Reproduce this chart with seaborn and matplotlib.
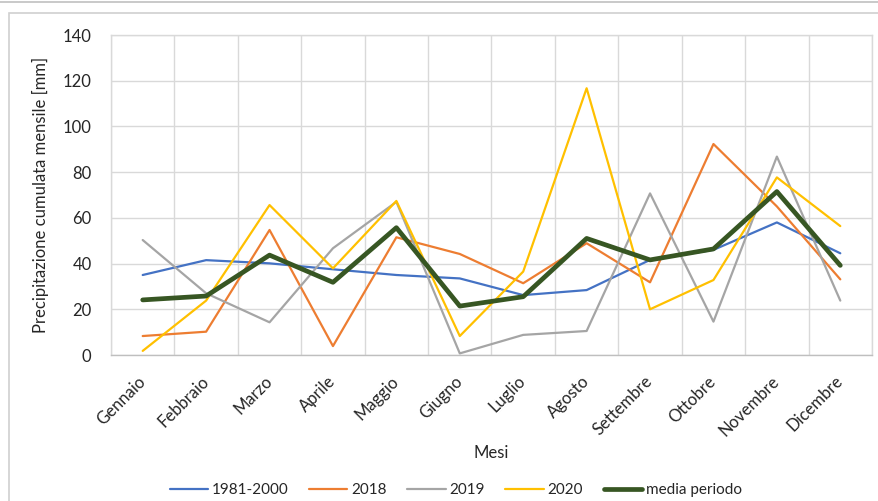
import numpy as np
import pandas as pd
import matplotlib
matplotlib.use("Agg")
import matplotlib.pyplot as plt
from matplotlib.patches import Rectangle
from matplotlib.ticker import FixedLocator
import seaborn as sns

months = ["Gennaio", "Febbraio", "Marzo", "Aprile", "Maggio", "Giugno",
          "Luglio", "Agosto", "Settembre", "Ottobre", "Novembre", "Dicembre"]

ref_1981_2000 = [35.0, 41.5, 40.1, 37.5, 35.0, 33.5, 26.2, 28.4, 41.6, 46.0, 58.0, 44.5]
y2018 = [8.3, 10.2, 54.7, 3.9, 51.5, 44.2, 31.4, 48.9, 31.8, 92.3, 65.0, 33.1]
y2019 = [50.3, 27.0, 14.3, 46.7, 67.0, 0.7, 8.8, 10.5, 70.7, 14.6, 86.8, 23.8]
y2020 = [1.8, 23.8, 65.6, 37.9, 67.4, 8.3, 36.5, 116.7, 20.0, 32.8, 77.7, 56.4]
media_periodo = [24.1, 25.8, 43.7, 31.8, 55.7, 21.4, 25.5, 51.0, 41.6, 46.4, 71.5, 39.2]

series_names = ["1981-2000", "2018", "2019", "2020", "media periodo"]
series_values = [ref_1981_2000, y2018, y2019, y2020, media_periodo]
series_colors = ["#4472C4", "#ED7D31", "#A5A5A5", "#FFC000", "#375623"]
series_widths = [1.6, 1.6, 1.6, 1.6, 3.4]

sns.set_theme(style="white")
plt.rcParams["font.family"] = ["Lato", "DejaVu Sans"]

fig = plt.figure(figsize=(8.79, 5.01), dpi=100)
ax = fig.add_axes([111 / 879, 1 - 355 / 501, (872 - 111) / 879, (355 - 35) / 501])

# outer chart frame and the rule above it
fig.patches.append(Rectangle((9 / 879, -0.05), 1.0, 1 - 13 / 501 + 0.05,
                             transform=fig.transFigure, fill=False,
                             edgecolor="#d0d0d0", linewidth=1.2))
fig.lines.append(plt.Line2D([0, 1], [1 - 1.5 / 501] * 2, transform=fig.transFigure,
                            color="#c0c0c0", linewidth=1.2))

x = np.arange(len(months))
for name, vals, col, lw in zip(series_names, series_values, series_colors, series_widths):
    df = pd.DataFrame({"mese": x, "valore": vals})
    sns.lineplot(data=df, x="mese", y="valore", ax=ax, color=col, linewidth=lw,
                 label=name, sort=False)

ax.set_xlim(-0.5, len(months) - 0.5)
ax.set_ylim(0, 140)
ax.set_yticks(np.arange(0, 141, 20))
ax.set_xticks(x)
ax.set_xticklabels(months, rotation=45, ha="right", va="center", rotation_mode="anchor")
ax.xaxis.set_minor_locator(FixedLocator(np.arange(-0.5, len(months), 1.0)))

ax.grid(False)
ax.grid(True, which="minor", axis="x", color="#d9d9d9", linewidth=1.0)
ax.grid(True, which="major", axis="y", color="#d9d9d9", linewidth=1.0)
ax.set_axisbelow(True)

for side in ["top", "right", "left"]:
    ax.spines[side].set_color("#d9d9d9")
    ax.spines[side].set_linewidth(1.0)
ax.spines["bottom"].set_color("#bfbfbf")
ax.spines["bottom"].set_linewidth(1.0)

ax.tick_params(axis="both", which="both", length=0, labelsize=12, colors="#262626")
ax.tick_params(axis="y", pad=14)
ax.tick_params(axis="x", pad=17)

ax.set_xlabel("Mesi", fontsize=12, color="#262626", va="center")
ax.xaxis.set_label_coords(0.5, -0.306)
ax.set_ylabel("Precipitazione cumulata mensile [mm]", fontsize=12, color="#262626", labelpad=10)

ax.legend(loc="center", bbox_to_anchor=(0.5 - 0.047, -0.423), ncol=5, frameon=False,
          fontsize=11, handlelength=2.5, handletextpad=0.25, columnspacing=1.35,
          labelcolor="#262626")

fig.savefig("out.png", dpi=100)
